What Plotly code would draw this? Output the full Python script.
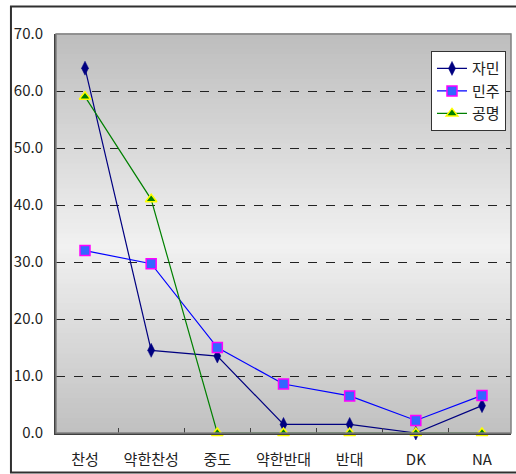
import plotly.graph_objects as go

categories = ["찬성", "약한찬성", "중도", "약한반대", "반대", "DK", "NA"]
jamin = [64.0, 14.5, 13.5, 1.5, 1.5, 0.0, 4.8]
minju = [32.0, 29.7, 15.0, 8.6, 6.5, 2.2, 6.6]
gongmyeong = [59.0, 41.0, 0.0, 0.0, 0.0, 0.0, 0.0]
y_ticks = [0, 10, 20, 30, 40, 50, 60, 70]

FONT = "Noto Sans CJK KR"

fig = go.Figure()
fig.add_trace(go.Scatter(
    x=categories, y=jamin, name="자민", mode="lines+markers",
    line=dict(color="#000080", width=1.2),
    marker=dict(symbol="diamond-tall", size=10, color="#000080",
                line=dict(color="#000080", width=0.5)),
    cliponaxis=False))
fig.add_trace(go.Scatter(
    x=categories, y=minju, name="민주", mode="lines+markers",
    line=dict(color="#0000ff", width=1.2),
    marker=dict(symbol="square", size=10, color="#3366ff",
                line=dict(color="#ff00ff", width=1.5)),
    cliponaxis=False))
fig.add_trace(go.Scatter(
    x=categories, y=gongmyeong, name="공명", mode="lines+markers",
    line=dict(color="#008000", width=1.2),
    marker=dict(symbol="triangle-up", size=10, color="#008000",
                line=dict(color="#ffff00", width=1.5)),
    cliponaxis=False))

# background vertical gradient (dark top -> light middle -> dark bottom)
shapes = []
n = 80
top_c, mid_c, bot_c = 189, 241, 192
mid_pos = 0.47
for i in range(n):
    y0 = i / n
    y1 = (i + 1) / n
    yc = (y0 + y1) / 2
    if yc < mid_pos:
        t = yc / mid_pos
        v = bot_c + (mid_c - bot_c) * t
    else:
        t = (yc - mid_pos) / (1 - mid_pos)
        v = mid_c + (top_c - mid_c) * t
    v = int(round(v))
    shapes.append(dict(type="rect", xref="paper", yref="paper",
                       x0=0, x1=1, y0=y0, y1=y1 + 0.002,
                       fillcolor=f"rgb({v},{v},{v})", line=dict(width=0),
                       layer="below"))
# plot area border (top/right gray)
shapes.append(dict(type="rect", xref="paper", yref="paper", x0=0, x1=1, y0=0, y1=1,
                   line=dict(color="#808080", width=1.5), fillcolor="rgba(0,0,0,0)",
                   layer="above"))
# outer chart border
shapes.append(dict(type="rect", xref="paper", yref="paper",
                   x0=-0.099, x1=1.02, y0=-0.099, y1=1.069,
                   line=dict(color="#303030", width=2), fillcolor="rgba(0,0,0,0)",
                   layer="above"))

fig.update_layout(
    width=516, height=474,
    margin=dict(l=56, r=5, t=34, b=41),
    paper_bgcolor="white", plot_bgcolor="rgba(0,0,0,0)",
    font=dict(family=FONT, size=15, color="#222222"),
    shapes=shapes,
    showlegend=True,
    legend=dict(x=0.989, y=0.957, xanchor="right", yanchor="top",
                bgcolor="white", bordercolor="#333333", borderwidth=1,
                font=dict(family=FONT, size=15, color="#222222"),
                itemwidth=30, tracegroupgap=0),
    xaxis=dict(type="category", showgrid=False, zeroline=False,
               showline=True, linecolor="#404040", linewidth=1.5,
               ticks="inside", ticklen=5, tickcolor="#404040", tickson="boundaries",
               ticklabelstandoff=12, tickangle=0, automargin=False,
               tickfont=dict(size=15)),
    yaxis=dict(range=[0, 70], tickvals=y_ticks, tickformat=".1f",
               showgrid=True, gridcolor="#222222", griddash="dash", gridwidth=1,
               zeroline=False, showline=True, linecolor="#404040", linewidth=2,
               ticks="", ticklabelstandoff=8, automargin=False,
               tickfont=dict(size=15)),
)

fig.write_html("out.html", config={"displayModeBar": False},
               post_script="document.body.style.margin='0px';document.body.style.padding='0px';")
